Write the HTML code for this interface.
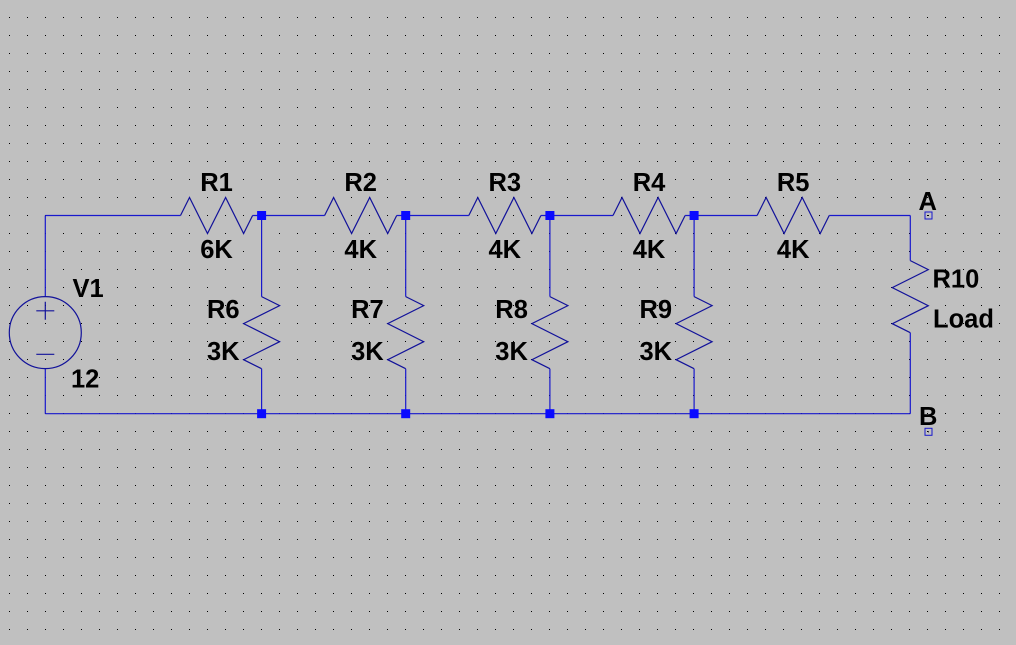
<!DOCTYPE html>
<html>
<head>
<meta charset="utf-8">
<style>
  html, body { margin: 0; padding: 0; width: 1016px; height: 645px; overflow: hidden; background: #c0c0c0; }
  svg { display: block; }
  text { font-family: "Liberation Sans", Arial, sans-serif; font-weight: bold; font-size: 25.5px; fill: #000; }
</style>
</head>
<body>
<svg width="1016" height="645" viewBox="0 0 1016 645" xmlns="http://www.w3.org/2000/svg">
  <defs>
    <pattern id="grid" x="9" y="17" width="18" height="18" patternUnits="userSpaceOnUse">
      <rect x="0" y="0" width="1" height="1" fill="#000"/>
    </pattern>
  </defs>
  <rect x="0" y="0" width="1016" height="645" fill="#c0c0c0"/>
  <rect x="0" y="0" width="1016" height="645" fill="url(#grid)"/>

  <!-- Wires -->
  <g stroke="#1818cc" stroke-width="1.2" fill="none">
    <!-- V1 left wire -->
    <path d="M45.3 215.5 V296.6 M45.3 368.6 V413.7"/>
    <!-- top wire segments -->
    <path d="M45.3 215.5 H180.5 M252.6 215.5 H324.6 M396.7 215.5 H468.8 M540.9 215.5 H613 M685.1 215.5 H757.1 M829.2 215.5 H910.3"/>
    <!-- R10 wire -->
    <path d="M910.3 215.5 V260.6 M910.3 332.7 V413.7"/>
    <!-- bottom wire -->
    <path d="M45.3 413.7 H910.3"/>
    <!-- shunt verticals -->
    <path d="M261.6 215.5 V296.6 M261.6 368.7 V413.7"/>
    <path d="M405.7 215.5 V296.6 M405.7 368.7 V413.7"/>
    <path d="M549.9 215.5 V296.6 M549.9 368.7 V413.7"/>
    <path d="M694.1 215.5 V296.6 M694.1 368.7 V413.7"/>
  </g>

  <!-- Components -->
  <g stroke="#12129a" stroke-width="1.2" fill="none" stroke-linejoin="miter">
    <!-- Horizontal resistors R1..R5 -->
    <polyline points="180.5,215.5 189.5,197.5 207.5,233.5 225.6,197.5 243.6,233.5 252.6,215.5"/>
    <polyline points="324.6,215.5 333.6,197.5 351.6,233.5 369.7,197.5 387.7,233.5 396.7,215.5"/>
    <polyline points="468.8,215.5 477.8,197.5 495.8,233.5 513.9,197.5 531.9,233.5 540.9,215.5"/>
    <polyline points="613,215.5 622,197.5 640,233.5 658.1,197.5 676.1,233.5 685.1,215.5"/>
    <polyline points="757.1,215.5 766.1,197.5 784.1,233.5 802.2,197.5 820.2,233.5 829.2,215.5"/>
    <!-- Vertical resistors R6..R9 -->
    <polyline points="261.6,296.6 279.6,305.6 243.6,323.6 279.6,341.7 243.6,359.7 261.6,368.7"/>
    <polyline points="405.7,296.6 423.7,305.6 387.7,323.6 423.7,341.7 387.7,359.7 405.7,368.7"/>
    <polyline points="549.9,296.6 567.9,305.6 531.9,323.6 567.9,341.7 531.9,359.7 549.9,368.7"/>
    <polyline points="694.1,296.6 712.1,305.6 676.1,323.6 712.1,341.7 676.1,359.7 694.1,368.7"/>
    <!-- R10 -->
    <polyline points="910.3,260.6 928.3,269.6 892.3,287.6 928.3,305.7 892.3,323.7 910.3,332.7"/>
    <!-- V1 source -->
    <circle cx="45.3" cy="332.6" r="36"/>
    <path d="M36.3 310.8 H54.3 M45.3 301.8 V319.8 M36.3 354.3 H54.3"/>
  </g>

  <!-- Junction nodes -->
  <g fill="#0a0aff">
    <rect x="257.1" y="211" width="9" height="9"/>
    <rect x="401.2" y="211" width="9" height="9"/>
    <rect x="545.4" y="211" width="9" height="9"/>
    <rect x="689.6" y="211" width="9" height="9"/>
    <rect x="257.1" y="409.2" width="9" height="9"/>
    <rect x="401.2" y="409.2" width="9" height="9"/>
    <rect x="545.4" y="409.2" width="9" height="9"/>
    <rect x="689.6" y="409.2" width="9" height="9"/>
  </g>

  <!-- Terminals A / B -->
  <g stroke="#1818cc" stroke-width="1" fill="none">
    <rect x="925" y="212" width="7" height="7"/>
    <rect x="925" y="428.3" width="7" height="7"/>
  </g>
  <rect x="928" y="215" width="1" height="1" fill="#000"/>
  <rect x="928" y="431.3" width="1" height="1" fill="#000"/>

  <!-- Labels: series resistors -->
  <g text-anchor="middle">
    <text x="216.5" y="191">R1</text>
    <text x="216.5" y="258">6K</text>
    <text x="360.7" y="191">R2</text>
    <text x="360.7" y="258">4K</text>
    <text x="504.8" y="191">R3</text>
    <text x="504.8" y="258">4K</text>
    <text x="649" y="191">R4</text>
    <text x="649" y="258">4K</text>
    <text x="793.2" y="191">R5</text>
    <text x="793.2" y="258">4K</text>
  </g>

  <!-- Labels: shunt resistors -->
  <g text-anchor="end">
    <text x="239.6" y="318">R6</text>
    <text x="239.6" y="360">3K</text>
    <text x="383.7" y="318">R7</text>
    <text x="383.7" y="360">3K</text>
    <text x="527.9" y="318">R8</text>
    <text x="527.9" y="360">3K</text>
    <text x="672.1" y="318">R9</text>
    <text x="672.1" y="360">3K</text>
  </g>

  <!-- Other labels -->
  <text x="72.5" y="297">V1</text>
  <text x="71" y="387.5">12</text>
  <text x="932.5" y="287.5">R10</text>
  <text x="933" y="327.5">Load</text>
  <text x="918.5" y="210">A</text>
  <text x="919" y="425">B</text>
</svg>
</body>
</html>
